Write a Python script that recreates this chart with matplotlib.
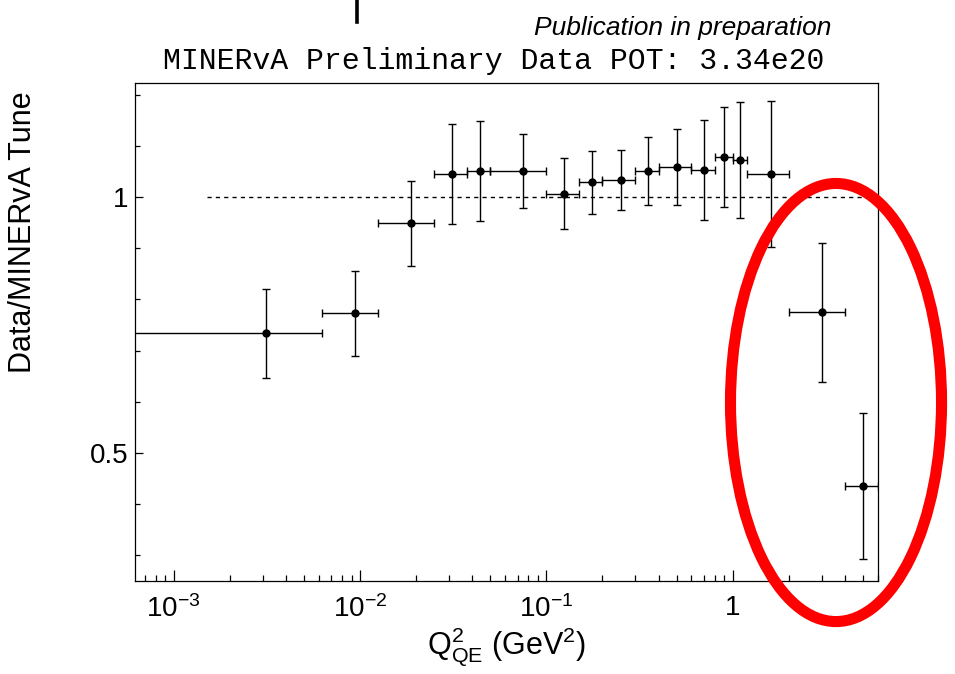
import numpy as np
import matplotlib
matplotlib.use("Agg")
import matplotlib.pyplot as plt
from matplotlib.patches import Ellipse
from matplotlib.lines import Line2D
from matplotlib.ticker import FixedLocator, LogLocator, MultipleLocator, NullFormatter

plt.rcParams['font.family'] = ['Liberation Sans', 'DejaVu Sans']
plt.rcParams['mathtext.fontset'] = 'custom'
plt.rcParams['mathtext.rm'] = 'Liberation Sans'
plt.rcParams['mathtext.it'] = 'Liberation Sans:italic'

# Q2 bins (GeV^2): centres and edges
q2_center = [0.003125, 0.009375, 0.01875, 0.03125, 0.04375, 0.075, 0.125, 0.175,
             0.25, 0.35, 0.5, 0.7, 0.9, 1.1, 1.6, 3.0, 5.0]
q2_low = [0.0, 0.00625, 0.0125, 0.025, 0.0375, 0.05, 0.1, 0.15,
          0.2, 0.3, 0.4, 0.6, 0.8, 1.0, 1.2, 2.0, 4.0]
q2_high = [0.00625, 0.0125, 0.025, 0.0375, 0.05, 0.1, 0.15, 0.2,
           0.3, 0.4, 0.6, 0.8, 1.0, 1.2, 2.0, 4.0, 6.0]

# data / MINERvA tune ratio
ratio = [0.734, 0.773, 0.949, 1.045, 1.051, 1.051, 1.007, 1.029,
         1.034, 1.051, 1.059, 1.053, 1.078, 1.072, 1.045, 0.775, 0.436]
ratio_err = [0.087, 0.083, 0.083, 0.098, 0.098, 0.072, 0.070, 0.062,
             0.059, 0.066, 0.075, 0.097, 0.098, 0.113, 0.142, 0.136, 0.143]

xtick_vals = [1e-3, 1e-2, 1e-1, 1]
xtick_labels = [r'$\mathregular{10^{-3}}$', r'$\mathregular{10^{-2}}$',
                r'$\mathregular{10^{-1}}$', '1']
ytick_vals = [0.5, 1]
ytick_labels = ['0.5', '1']

fig = plt.figure(figsize=(9.55, 6.74), dpi=100)
ax = fig.add_axes([0.1414, 0.138, 0.7777, 0.7389])
ax.set_xscale('log', nonpositive='clip')
ax.set_xlim(6.2e-4, 6.0)
ax.set_ylim(0.25, 1.223)

x = np.array(q2_center)
xerr = [x - np.array(q2_low), np.array(q2_high) - x]
ax.errorbar(x, ratio, yerr=ratio_err, xerr=xerr, fmt='o', color='black',
            ms=5, elinewidth=1.0, capsize=2.6, capthick=1.0, zorder=3)

ax.hlines(1.0, 0.0015, 6.0, colors='black', linestyles=(0, (3, 3)), linewidth=1.0)

ax.xaxis.set_major_locator(FixedLocator(xtick_vals))
ax.set_xticklabels(xtick_labels)
ax.xaxis.set_minor_locator(LogLocator(base=10, subs=np.arange(2, 10)))
ax.xaxis.set_minor_formatter(NullFormatter())
ax.yaxis.set_major_locator(FixedLocator(ytick_vals))
ax.set_yticklabels(ytick_labels)
ax.yaxis.set_minor_locator(MultipleLocator(0.1))

ax.tick_params(axis='both', which='both', direction='in', top=False, right=False,
               labelsize=20, width=0.9)
ax.tick_params(axis='x', which='major', length=8, pad=10)
ax.tick_params(axis='x', which='minor', length=4.5)
ax.tick_params(axis='y', which='major', length=5.5, pad=5)
ax.tick_params(axis='y', which='minor', length=3.5)
for s in ax.spines.values():
    s.set_linewidth(0.9)

ax.set_xlabel(r'$\mathregular{Q^{2}_{QE}\ (GeV^{2})}$', fontsize=22, labelpad=2)
ax.set_ylabel('Data/MINERvA Tune', fontsize=22)
ax.yaxis.set_label_coords(-0.13, 0.70)

fig.text(0.871, 0.948, 'Publication in preparation', ha='right', va='baseline',
         fontsize=19, style='italic')
fig.text(0.5168, 0.898, 'MINERvA Preliminary Data POT: 3.34e20', ha='center',
         va='baseline', fontsize=21.5, family=['Liberation Mono', 'DejaVu Sans Mono'])

# cut-off piece of a heading above the figure
fig.add_artist(Line2D([0.374, 0.374], [1.0, 0.968], transform=fig.transFigure,
                      color='black', linewidth=2.6))

# red highlight ring around the high-Q2 points
ring = Ellipse((0.8754, 0.4028), 0.221, 0.650, transform=fig.transFigure,
               fill=False, edgecolor='red', linewidth=8, zorder=10)
fig.add_artist(ring)

fig.savefig('out.png', dpi=100)
